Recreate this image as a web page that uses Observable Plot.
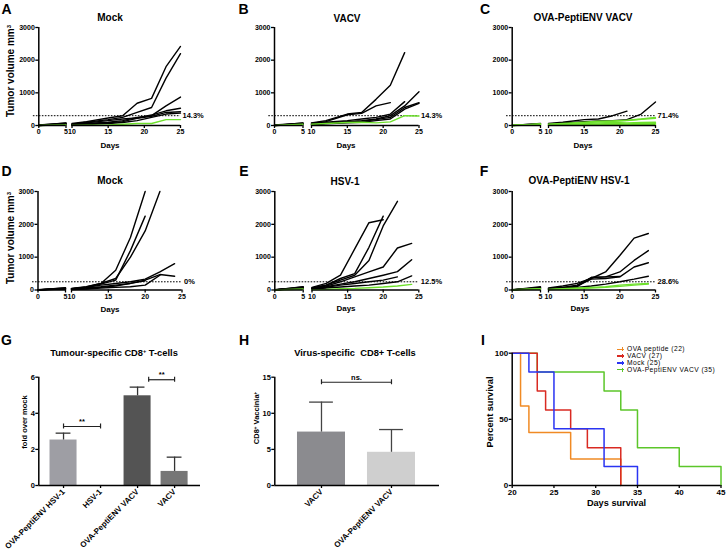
<!DOCTYPE html>
<html><head><meta charset="utf-8">
<script src="https://cdn.jsdelivr.net/npm/d3@7"></script>
<script src="https://cdn.jsdelivr.net/npm/@observablehq/plot@0.6"></script>
<style>
html,body{margin:0;padding:0;background:#fff;}
#fig{position:relative;width:726px;height:554px;overflow:hidden;font-family:'Liberation Sans',Arial,Helvetica,sans-serif;color:#000;background:#fff;}
.t{position:absolute;white-space:nowrap;line-height:1;}
.t sup{font-size:0.6em;vertical-align:0.55em;line-height:0;}
#fig svg{position:absolute;overflow:visible;}
</style></head><body><div id="fig"></div>
<script>
// ---------------- DATA ----------------
// Tumour growth panels (A-F): tumour volume (mm^3) per mouse; null = no measurement
const daysTop = [0, 5, 10, 12, 15, 17, 19, 21, 23, 25];
const daysBottom = [0, 5, 10, 12, 14, 16, 18, 20, 22, 24];

const mockA = [
  [0, 50, 60, 120, 230, 300, 680, 830, 1800, 2420],
  [10, 40, 40, 100, 180, 250, 400, 550, 1450, 2200],
  [0, 60, 30, 60, 100, 150, 250, 300, 600, 870],
  [20, 70, 20, 80, 150, 200, 230, 320, 450, 530],
  [0, 30, 20, 50, 80, 120, 220, 280, 400, 420],
  [10, 80, 10, 30, 60, 90, 150, 250, 350, 380],
  [0, 20, 5, 10, 20, 40, 60, 60, 180, 180]
];
const respA = [0, 0, 0, 0, 0, 0, 1];

const vacvB = [
  [0, 60, 80, 150, 350, 400, 800, 1230, 2230, null],
  [10, 50, 70, 120, 330, 370, 600, 700, null, null],
  [0, 40, 40, 80, 120, 150, 200, 300, 600, 1030],
  [20, 70, 50, 100, 150, 200, 250, 350, 730, null],
  [0, 80, 30, 70, 100, 130, 180, 250, 550, 700],
  [10, 30, 20, 50, 80, 100, 150, 200, 500, 680],
  [0, 40, 40, 60, 90, 100, 80, 110, 300, 290]
];
const respB = [0, 0, 0, 0, 0, 0, 1];

const ovaVacvC = [
  [0, 60, 60, 100, 180, 200, 300, 440, null, null],
  [10, 50, 50, 80, 120, 140, 150, 180, 350, 720],
  [0, 40, 40, 60, 100, 130, 140, 160, 200, 250],
  [10, 30, 30, 50, 80, 110, 130, 150, 190, 220],
  [0, 50, 20, 40, 60, 80, 90, 80, 90, 100],
  [0, 20, 10, 30, 40, 50, 60, 50, 60, 60],
  [10, 30, 10, 20, 20, 30, 30, 30, 30, 30]
];
const respC = [0, 0, 1, 1, 1, 1, 1];

const mockD = [
  [0, 50, 50, 100, 200, 600, 1600, 3000, null, null],
  [10, 40, 40, 80, 180, 300, 1200, 2250, null, null],
  [0, 60, 30, 90, 200, 350, 1000, 1800, 3000, null],
  [10, 30, 40, 80, 150, 200, 250, 330, 550, 800],
  [0, 70, 20, 60, 100, 150, 200, 300, 470, 420],
  [10, 20, 10, 30, 60, 80, 100, 150, 450, null],
  [0, 40, 20, 40, 80, 120, 200, 280, null, null]
];
const respD = [0, 0, 0, 0, 0, 0, 0];

const hsvE = [
  [0, 80, 80, 200, 455, 1250, 2050, 2140, null, null],
  [10, 60, 60, 150, 350, 500, 1300, 2250, null, null],
  [0, 100, 60, 150, 300, 450, 900, 1950, 2700, null],
  [10, 50, 50, 120, 250, 400, 550, 700, 1280, 1420],
  [0, 70, 40, 100, 180, 250, 350, 450, 560, 920],
  [10, 40, 30, 60, 90, 120, 150, 200, 250, 430],
  [0, 90, 40, 80, 150, 200, 250, 300, 400, null],
  [0, 30, 10, 20, 40, 50, 70, 90, 120, 170]
];
const respE = [0, 0, 0, 0, 0, 0, 0, 1];

const ovaHsvF = [
  [0, 80, 60, 120, 200, 350, 550, 1050, 1580, 1720],
  [10, 60, 40, 80, 150, 380, 400, 550, 900, 1200],
  [0, 100, 30, 70, 120, 330, 350, 400, 700, 830],
  [10, 50, 30, 60, 80, 120, 180, 250, 330, 420],
  [0, 70, 20, 50, 100, 380, 400, 410, null, null],
  [0, 40, 20, 40, 60, 80, 100, 150, 180, 200],
  [10, 30, 10, 30, 40, 60, 80, 110, 150, 180]
];
const respF = [0, 0, 0, 0, 0, 1, 1];

const thresholdTop = 300, thresholdBottom = 250;
const volumeTicks = [0, 1000, 2000, 3000];
const dayTicks = [0, 5, 10, 15, 20, 25];

// Panel G: tumour-specific CD8+ T cells (fold over mock)
const catsG = ["OVA-PeptiENV HSV-1", "HSV-1", "OVA-PeptiENV VACV", "VACV"];
const meanG = [2.52, 0, 4.97, 0.78];
const errG = [2.9, null, 5.45, 1.57];
const sigFromG = [0, 2.3], sigToG = [1, 3], sigYG = [3.27, 5.86], sigTextG = ["**", "**"];

// Panel H: virus-specific CD8+ T cells
const catsH = ["VACV", "OVA-PeptiENV VACV"];
const meanH = [7.4, 4.6];
const errH = [11.55, 7.75];
const sigFromH = [0], sigToH = [1], sigYH = [14.3], sigTextH = ["ns."];

// Panel I: survival
const groupsI = ["OVA peptide (22)", "VACV (27)", "Mock (25)", "OVA-PeptiENV VACV (35)"];
const timesI = [
  [20, 21, 22, 27, 33],
  [20, 23, 24, 27, 29, 33],
  [20, 22, 25, 31, 35],
  [20, 23, 31, 33, 35, 40, 45]
];
const survI = [
  [100, 60, 40, 20, 0],
  [100, 71.4, 57.1, 42.9, 28.6, 0],
  [100, 85.7, 42.9, 14.3, 0],
  [100, 85.7, 71.4, 57.1, 28.6, 14.3, 0]
];

// ---------------- DRAWING ----------------
const FONT = "'Liberation Sans', Arial, Helvetica, sans-serif";
const GREEN = "#6ee02c";
const fig = document.getElementById("fig");
const intFmt = d => String(d);

function label(html, x, y, o = {}) {
  const d = document.createElement("div");
  d.className = "t";
  d.innerHTML = html;
  d.style.left = x + "px";
  d.style.top = y + "px";
  d.style.fontSize = (o.size || 10) + "px";
  d.style.fontWeight = o.weight || "bold";
  if (o.spacing) d.style.letterSpacing = o.spacing + "px";
  const tx = o.anchor === "start" ? "0" : "-50%";
  d.style.transform = `translate(${tx},-50%)` + (o.rot ? ` rotate(${o.rot}deg)` : "");
  fig.append(d);
}
function place(svg, x0, y0) {
  svg.style.left = x0 + "px";
  svg.style.top = y0 + "px";
  fig.append(svg);
}
const baseStyle = (size) => ({fontFamily: FONT, fontSize: size + "px", fontWeight: "bold", background: "transparent", overflow: "visible", color: "#000"});

function tumourPanel(p) {
  const {x0, y0, w, h, xPx, yPx, days, mice, resp, thresh, pct} = p;
  const rows = [];
  mice.forEach((vals, i) => vals.forEach((v, j) => {
    if (v != null) rows.push({id: i, day: days[j], v, seg: days[j] <= 5 ? 0 : 1, resp: resp[i]});
  }));
  rows.sort((a, b) => a.resp - b.resp);
  const svg = Plot.plot({
    width: w, height: h,
    marginLeft: xPx[0] - x0, marginRight: x0 + w - xPx[3],
    marginTop: yPx[1] - y0, marginBottom: y0 + h - yPx[0],
    x: {type: "linear", domain: [0, 5, 10, 25], range: xPx.map(v => v - x0)},
    y: {domain: [0, 3000]},
    style: baseStyle(7),
    marks: [
      Plot.ruleY([thresh], {x1: -1, x2: 25, strokeDasharray: "1.6,1.4", strokeWidth: 1}),
      Plot.line(rows, {x: "day", y: "v", z: d => d.id + "_" + d.seg, stroke: d => d.resp ? GREEN : "#000", strokeWidth: 1.4}),
      Plot.ruleX([0], {y1: 0, y2: 3000, strokeWidth: 1.5}),
      Plot.ruleY([0], {x1: 0, x2: 5, strokeWidth: 1.5}),
      Plot.ruleY([0], {x1: 10, x2: 25, strokeWidth: 1.5}),
      Plot.axisY({ticks: volumeTicks, tickFormat: intFmt, tickSize: 3, tickPadding: 1, label: null, strokeWidth: 1.3}),
      Plot.axisX({ticks: dayTicks, tickFormat: intFmt, tickSize: 3, tickPadding: 1, label: null, strokeWidth: 1.3}),
      Plot.text([pct], {x: 25, y: thresh, text: d => d, textAnchor: "start", dx: 2, fontSize: 7.5})
    ]
  });
  place(svg, x0, y0);
}

// Row 1
tumourPanel({x0: 0, y0: 0, w: 240, h: 165, xPx: [38.3, 65.5, 71.5, 180], yPx: [125, 27], days: daysTop, mice: mockA, resp: respA, thresh: thresholdTop, pct: "14.3%"});
tumourPanel({x0: 240, y0: 0, w: 240, h: 165, xPx: [274, 302.5, 311, 418.5], yPx: [125, 27], days: daysTop, mice: vacvB, resp: respB, thresh: thresholdTop, pct: "14.3%"});
tumourPanel({x0: 480, y0: 0, w: 246, h: 165, xPx: [511.7, 540, 548, 655], yPx: [125, 27], days: daysTop, mice: ovaVacvC, resp: respC, thresh: thresholdTop, pct: "71.4%"});
// Row 2
tumourPanel({x0: 0, y0: 165, w: 240, h: 165, xPx: [37.5, 65, 71, 181.5], yPx: [289.5, 191], days: daysBottom, mice: mockD, resp: respD, thresh: thresholdBottom, pct: "0%"});
tumourPanel({x0: 240, y0: 165, w: 240, h: 165, xPx: [274.3, 302.7, 311.5, 418.3], yPx: [289.5, 191], days: daysBottom, mice: hsvE, resp: respE, thresh: thresholdBottom, pct: "12.5%"});
tumourPanel({x0: 480, y0: 165, w: 246, h: 165, xPx: [511.7, 540, 548, 655], yPx: [289.5, 191], days: daysBottom, mice: ovaHsvF, resp: respF, thresh: thresholdBottom, pct: "28.6%"});

// Bar panels
function barPanel(p) {
  const {x0, y0, w, h, left, right, top, bottom, xDomain, yDomain, yTicks, cats, mean, err, colors, sigFrom, sigTo, sigY, sigText, bw, capW, stem} = p;
  const bars = cats.map((c, i) => ({i, c, mean: mean[i], hi: err[i], fill: colors[i]}));
  const errs = bars.filter(d => d.hi != null);
  const sig = sigFrom.map((f, k) => ({from: f, to: sigTo[k], y: sigY[k], text: sigText[k]}));
  const pxPerUnit = (bottom - top) / (yDomain[1] - yDomain[0]);
  const tk = 2.5 / pxPerUnit;
  const svg = Plot.plot({
    width: w, height: h,
    marginLeft: left - x0, marginRight: x0 + w - right, marginTop: top - y0, marginBottom: y0 + h - bottom,
    x: {domain: xDomain},
    y: {domain: yDomain},
    style: baseStyle(7.5),
    marks: [
      Plot.rectY(bars.filter(d => d.mean > 0), {x1: d => d.i - bw, x2: d => d.i + bw, y1: 0, y2: "mean", fill: "fill"}),
      Plot.ruleX(errs, {x: "i", y1: "mean", y2: "hi", stroke: stem, strokeWidth: 1.3}),
      Plot.ruleY(errs, {y: "hi", x1: d => d.i - capW, x2: d => d.i + capW, stroke: stem, strokeWidth: 1.3}),
      Plot.ruleY(sig, {y: "y", x1: "from", x2: "to", strokeWidth: 1.2, stroke: "#222"}),
      Plot.ruleX(sig, {x: "from", y1: d => d.y - tk, y2: d => d.y + tk, strokeWidth: 1.2, stroke: "#222"}),
      Plot.ruleX(sig, {x: "to", y1: d => d.y - tk, y2: d => d.y + tk, strokeWidth: 1.2, stroke: "#222"}),
      Plot.text(sig, {x: d => (d.from + d.to) / 2, y: "y", text: "text", dy: -5, fontSize: 7.5}),
      Plot.ruleX([xDomain[0]], {y1: yDomain[0], y2: yDomain[1], strokeWidth: 1.5}),
      Plot.ruleY([0], {x1: xDomain[0], x2: xDomain[1], strokeWidth: 1.5}),
      Plot.axisY({ticks: yTicks, tickFormat: intFmt, tickSize: 3, tickPadding: 1, label: null, strokeWidth: 1.3}),
      Plot.axisX({ticks: d3.range(cats.length), tickFormat: i => cats[i], tickRotate: -45, tickSize: 3, tickPadding: 2, label: null, fontSize: 8, strokeWidth: 1.3})
    ]
  });
  place(svg, x0, y0);
}

barPanel({x0: 0, y0: 340, w: 240, h: 214, left: 38.3, right: 200, top: 376.7, bottom: 485,
  xDomain: [-0.668, 3.70], yDomain: [0, 6], yTicks: [0, 2, 4, 6], cats: catsG, mean: meanG, err: errG,
  colors: ["#9e9ea4", "#9e9ea4", "#545454", "#767676"], sigFrom: sigFromG, sigTo: sigToG, sigY: sigYG, sigText: sigTextG,
  bw: 0.365, capW: 0.2, stem: "#333"});
barPanel({x0: 240, y0: 340, w: 240, h: 214, left: 274.3, right: 439, top: 376.7, bottom: 485,
  xDomain: [-0.667, 1.686], yDomain: [0, 15], yTicks: [0, 5, 10, 15], cats: catsH, mean: meanH, err: errH,
  colors: ["#8b8b8f", "#cfcfcf"], sigFrom: sigFromH, sigTo: sigToH, sigY: sigYH, sigText: sigTextH,
  bw: 0.343, capW: 0.17, stem: "#444"});

// Survival panel
const colorsI = ["#f08a24", "#d92a22", "#2a34f2", "#5cc62a"];
const survRows = [];
[3, 0, 1, 2].forEach(g => timesI[g].forEach((t, j) => survRows.push({g: groupsI[g], t, s: survI[g][j], c: colorsI[g]})));
const svgI = Plot.plot({
  width: 246, height: 214,
  marginLeft: 31.7, marginRight: 5.5, marginTop: 12.7, marginBottom: 69,
  x: {domain: [20, 45]},
  y: {domain: [0, 100]},
  style: baseStyle(8),
  marks: [
    Plot.line(survRows, {x: "t", y: "s", z: "g", stroke: "c", curve: "step-after", strokeWidth: 1.5}),
    Plot.ruleX([20], {y1: 0, y2: 100, strokeWidth: 1.5}),
    Plot.ruleY([0], {x1: 20, x2: 45, strokeWidth: 1.5}),
    Plot.axisY({ticks: [0, 50, 100], tickFormat: intFmt, tickSize: 3, tickPadding: 1, label: null, strokeWidth: 1.3}),
    Plot.axisX({ticks: [20, 25, 30, 35, 40, 45], tickFormat: intFmt, tickSize: 3, tickPadding: 1, label: null, strokeWidth: 1.3})
  ]
});
place(svgI, 480, 340);

// Legend for I
const legendY = [349.3, 356.1, 362.9, 369.7];
groupsI.forEach((g, i) => {
  const ln = document.createElement("div");
  ln.style.cssText = `position:absolute;left:617px;top:${legendY[i] - 0.75}px;width:7px;height:1.5px;background:${colorsI[i]}`;
  fig.append(ln);
  const tick = document.createElement("div");
  tick.style.cssText = `position:absolute;left:622px;top:${legendY[i] - 2}px;width:1px;height:4px;background:${colorsI[i]}`;
  fig.append(tick);
  label(g, 627, legendY[i], {size: 6.7, weight: "normal", anchor: "start", spacing: 0.45});
});

// Panel letters
[["A", 6.5, 8.5], ["B", 243.5, 8.5], ["C", 485, 8.5], ["D", 6.5, 171], ["E", 244, 171], ["F", 484, 171], ["G", 6.5, 339.5], ["H", 244, 339.5], ["I", 483, 339.5]]
  .forEach(([s, x, y]) => label(s, x, y, {size: 14}));

// Titles
label("Mock", 110, 18);
label("VACV", 347, 18.5);
label("OVA-PeptiENV VACV", 583, 17.5);
label("Mock", 110, 181);
label("HSV-1", 345, 181.5);
label("OVA-PeptiENV HSV-1", 579, 181);
label("Tumour-specific CD8<sup>+</sup> T-cells", 114, 353.5, {size: 9.3});
label("Virus-specific&nbsp; CD8+ T-cells", 355, 353.5, {size: 9.3});

// Axis labels
label("Tumor volume mm<sup>3</sup>", 10.5, 71, {rot: -90});
label("Tumor volume mm<sup>3</sup>", 10.5, 238, {rot: -90});
[[110, 146], [346, 146], [583, 145.5], [110, 309.5], [346, 309.3], [580, 309]].forEach(([x, y]) => label("Days", x, y, {size: 8}));
label("fold over mock", 25, 422, {size: 7.5, rot: -90});
label("CD8<sup>+</sup> Vaccinia<sup>+</sup>", 256.5, 418, {size: 7.5, rot: -90});
label("Percent survival", 491, 412, {size: 9.2, rot: -90});
label("Days survival", 616.5, 504, {size: 9.2});
</script></body></html>
